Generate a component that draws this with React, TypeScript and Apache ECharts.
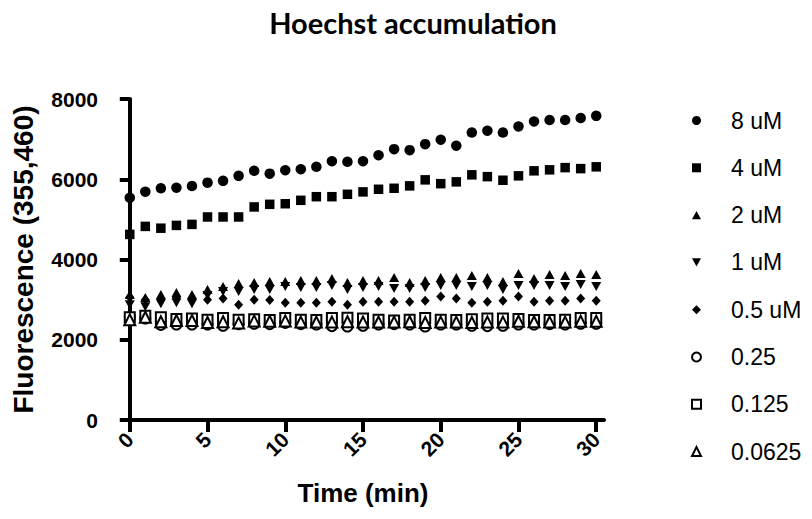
import React, { useEffect, useRef } from "react";
import * as echarts from "echarts";

const times = [0, 1, 2, 3, 4, 5, 6, 7, 8, 9, 10, 11, 12, 13, 14, 15, 16, 17, 18, 19, 20, 21, 22, 23, 24, 25, 26, 27, 28, 29, 30];

const s8uM = [5540, 5690, 5775, 5790, 5830, 5915, 5960, 6085, 6210, 6140, 6225, 6250, 6310, 6450, 6435, 6450, 6600, 6750, 6725, 6875, 6985, 6835, 7165, 7210, 7165, 7315, 7440, 7475, 7475, 7525, 7580];
const s4uM = [4625, 4825, 4780, 4850, 4875, 5060, 5060, 5060, 5310, 5375, 5390, 5475, 5565, 5565, 5625, 5685, 5750, 5775, 5835, 5985, 5890, 5935, 6110, 6065, 5975, 6085, 6210, 6235, 6290, 6265, 6310];
const s2uM = [3125, 3050, 3125, 3175, 3125, 3250, 3325, 3400, 3425, 3450, 3450, 3475, 3475, 3525, 3425, 3475, 3475, 3550, 3425, 3475, 3550, 3550, 3600, 3550, 3450, 3650, 3525, 3625, 3600, 3650, 3625];
const s1uM = [2875, 2825, 2900, 2925, 2900, 3100, 3200, 3200, 3250, 3250, 3325, 3300, 3300, 3350, 3250, 3300, 3325, 3275, 3275, 3300, 3350, 3350, 3325, 3350, 3250, 3350, 3350, 3350, 3325, 3375, 3325];
const s05uM = [3060, 3000, 3000, 3050, 3000, 3000, 3025, 2875, 3000, 2990, 2925, 2925, 2925, 2950, 2875, 2950, 2950, 2950, 2950, 2975, 3075, 3025, 2925, 2950, 2975, 3075, 2950, 2975, 2975, 3025, 2975];
const s025 = [2560, 2530, 2370, 2380, 2380, 2380, 2350, 2390, 2400, 2390, 2420, 2390, 2380, 2340, 2330, 2350, 2380, 2390, 2380, 2330, 2380, 2380, 2350, 2340, 2350, 2380, 2380, 2390, 2380, 2400, 2400];
const s0125 = [2560, 2600, 2560, 2520, 2530, 2500, 2540, 2500, 2510, 2490, 2540, 2500, 2490, 2540, 2550, 2530, 2500, 2480, 2500, 2540, 2500, 2490, 2510, 2530, 2530, 2520, 2490, 2490, 2500, 2540, 2540];
const s00625 = [2500, 2560, 2450, 2480, 2480, 2430, 2450, 2420, 2470, 2460, 2470, 2440, 2440, 2440, 2450, 2440, 2440, 2440, 2450, 2430, 2440, 2440, 2430, 2440, 2440, 2460, 2450, 2440, 2440, 2460, 2460];

const xTicks = [0, 5, 10, 15, 20, 25, 30];
const seriesNames = ["8 uM", "4 uM", "2 uM", "1 uM", "0.5 uM", "0.25", "0.125", "0.0625"];

const DOWN_TRI = "path://M0,0 L10,0 L5,9 Z";
const UP_TRI = "path://M5,0 L10,9 L0,9 Z";

export default function App() {
  const ref = useRef<HTMLDivElement>(null);
  useEffect(() => {
    if (!ref.current) return;
    const chart = echarts.init(ref.current, undefined, { renderer: "svg" });
    const font = "'Liberation Sans', Arial, Helvetica, sans-serif";
    const pair = (arr: number[]) => times.map((t, i) => [t, arr[i]]);
    const specs: { data: number[]; symbol: string; size: number | number[]; hollow?: boolean }[] = [
      { data: s8uM, symbol: "circle", size: 10.5 },
      { data: s4uM, symbol: "rect", size: 9.5 },
      { data: s2uM, symbol: UP_TRI, size: [10, 9] },
      { data: s1uM, symbol: DOWN_TRI, size: [10, 9] },
      { data: s05uM, symbol: "diamond", size: [9, 10] },
      { data: s025, symbol: "emptyCircle", size: 10, hollow: true },
      { data: s0125, symbol: "emptyRect", size: 10, hollow: true },
      { data: s00625, symbol: "emptyTriangle", size: 11, hollow: true },
    ];
    chart.setOption({
      animation: false,
      backgroundColor: "#ffffff",
      title: {
        text: "Hoechst accumulation",
        left: 408,
        textAlign: "center",
        top: 3,
        textStyle: { fontFamily: "Lato, 'Open Sans', sans-serif", fontWeight: "bold", fontSize: 29, color: "#000" },
      },
      legend: {
        orient: "vertical",
        left: 686,
        top: 104,
        itemWidth: 9,
        itemHeight: 9,
        itemGap: 24.3,
        data: seriesNames.map((n, i) =>
          i >= 5 ? { name: n, itemStyle: { borderWidth: 2.5, borderColor: "#000" } } : { name: n }
        ),
        textStyle: { fontFamily: font, fontSize: 23, color: "#000", padding: [0, 0, 0, 25] },
      },
      grid: { left: 122, top: 99, width: 482, height: 321 },
      xAxis: {
        type: "value",
        min: -0.5,
        max: 30.5,
        name: "Time (min)",
        nameLocation: "middle",
        nameGap: 60,
        nameTextStyle: { fontFamily: font, fontWeight: "bold", fontSize: 26, color: "#000" },
        splitLine: { show: false },
        axisLine: { show: true, lineStyle: { color: "#000", width: 4 } },
        axisTick: { show: true, length: 12, lineStyle: { color: "#000", width: 4 }, customValues: xTicks },
        axisLabel: {
          customValues: xTicks,
          rotate: 45,
          margin: 16,
          fontFamily: font,
          fontWeight: "bold",
          fontSize: 21,
          color: "#000",
        },
      },
      yAxis: {
        type: "value",
        min: 0,
        max: 8000,
        interval: 2000,
        name: "Fluorescence (355,460)",
        nameLocation: "middle",
        nameGap: 85,
        nameTextStyle: { fontFamily: font, fontWeight: "bold", fontSize: 28, color: "#000" },
        splitLine: { show: false },
        axisLine: { show: true, lineStyle: { color: "#000", width: 4 } },
        axisTick: { show: true, length: 10, lineStyle: { color: "#000", width: 4 } },
        axisLabel: {
          margin: 24,
          fontFamily: font,
          fontWeight: "bold",
          fontSize: 21,
          color: "#000",
          formatter: (v: number) => String(v),
        },
      },
      series: specs.map((s, i) => ({
        name: seriesNames[i],
        type: "scatter",
        data: pair(s.data),
        symbol: s.symbol,
        symbolSize: s.size,
        itemStyle: s.hollow
          ? { color: "#000", borderColor: "#000", borderWidth: 3, opacity: 1 }
          : { color: "#000", borderWidth: 0, opacity: 1 },
      })),
    });
    return () => chart.dispose();
  }, []);
  return <div ref={ref} style={{ position: "fixed", left: 0, top: 0, width: 812, height: 519 }} />;
}
